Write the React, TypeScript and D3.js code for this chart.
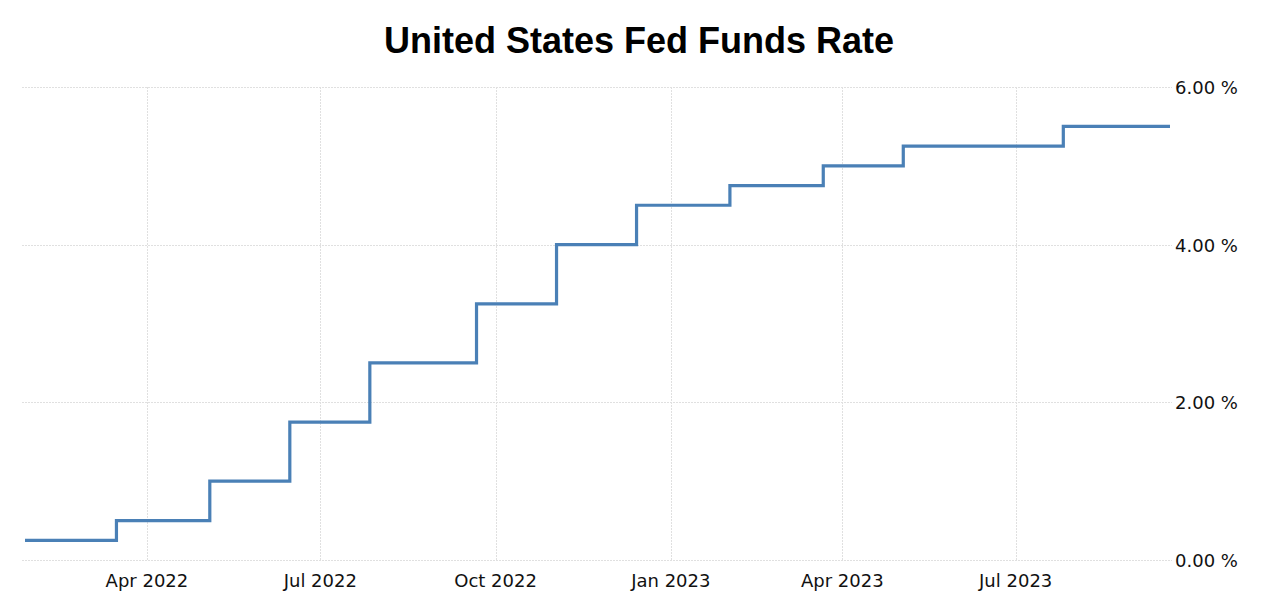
import React from "react";
import * as d3 from "d3";

const title = "United States Fed Funds Rate";
// dates on which the rate changed (first = start of visible window, last = end of window)
const changeDates = [
  "2022-01-27", "2022-03-16", "2022-05-04", "2022-06-15", "2022-07-27",
  "2022-09-21", "2022-11-02", "2022-12-14", "2023-02-01", "2023-03-22",
  "2023-05-03", "2023-07-26", "2023-09-20",
];
const rates = [0.25, 0.5, 1.0, 1.75, 2.5, 3.25, 4.0, 4.5, 4.75, 5.0, 5.25, 5.5, 5.5];
const xTickDates = ["2022-04-01", "2022-07-01", "2022-10-01", "2023-01-01", "2023-04-01", "2023-07-01"];
const yTicks = [0, 2, 4, 6];

const W = 1280;
const H = 605;

export default function App() {
  const parse = d3.timeParse("%Y-%m-%d");
  const data = changeDates.map((d, i) => ({ date: parse(d) as Date, value: rates[i] }));
  const x = d3
    .scaleTime()
    .domain([data[0].date, data[data.length - 1].date])
    .range([25, 1170]);
  const y = d3.scaleLinear().domain([0, 6]).range([560, 87]);
  const line = d3
    .line<{ date: Date; value: number }>()
    .x((d) => x(d.date))
    .y((d) => y(d.value))
    .curve(d3.curveStepAfter);
  const fmt = d3.timeFormat("%b %Y");
  const tickDates = xTickDates.map((d) => parse(d) as Date);

  React.useEffect(() => {
    document.body.style.margin = "0";
  }, []);

  return (
    <svg
      width={W}
      height={H}
      style={{ display: "block", position: "absolute", left: 0, top: 0, background: "#fff" }}
    >
      <rect width={W} height={H} fill="#fff" />
      <text
        x={639}
        y={53}
        textAnchor="middle"
        fontFamily="'Liberation Sans', Arial, sans-serif"
        fontWeight="bold"
        fontSize={36}
        fill="#000"
      >
        {title}
      </text>
      {/* vertical grid */}
      {tickDates.map((d, i) => (
        <line
          key={"vg" + i}
          x1={Math.round(x(d)) + 0.5}
          x2={Math.round(x(d)) + 0.5}
          y1={y(6)}
          y2={y(0)}
          stroke="#e0e0e0"
          strokeDasharray="2,1"
        />
      ))}
      {/* horizontal grid */}
      {yTicks.map((t) => (
        <line
          key={"hg" + t}
          x1={22}
          x2={1172}
          y1={Math.round(y(t)) + 0.5}
          y2={Math.round(y(t)) + 0.5}
          stroke="#e0e0e0"
          strokeDasharray="2,1"
        />
      ))}
      <path d={line(data) || ""} fill="none" stroke="#4a80b6" strokeWidth={3.2} />
      {tickDates.map((d, i) => (
        <text
          key={"xl" + i}
          x={x(d)}
          y={587}
          textAnchor="middle"
          fontFamily="'DejaVu Sans', sans-serif"
          fontSize={18}
          fill="#111"
        >
          {fmt(d)}
        </text>
      ))}
      {yTicks.map((t) => (
        <text
          key={"yl" + t}
          x={1175}
          y={y(t) + 7}
          textAnchor="start"
          fontFamily="'DejaVu Sans', sans-serif"
          fontSize={18}
          fill="#111"
        >
          {t.toFixed(2) + " %"}
        </text>
      ))}
    </svg>
  );
}
